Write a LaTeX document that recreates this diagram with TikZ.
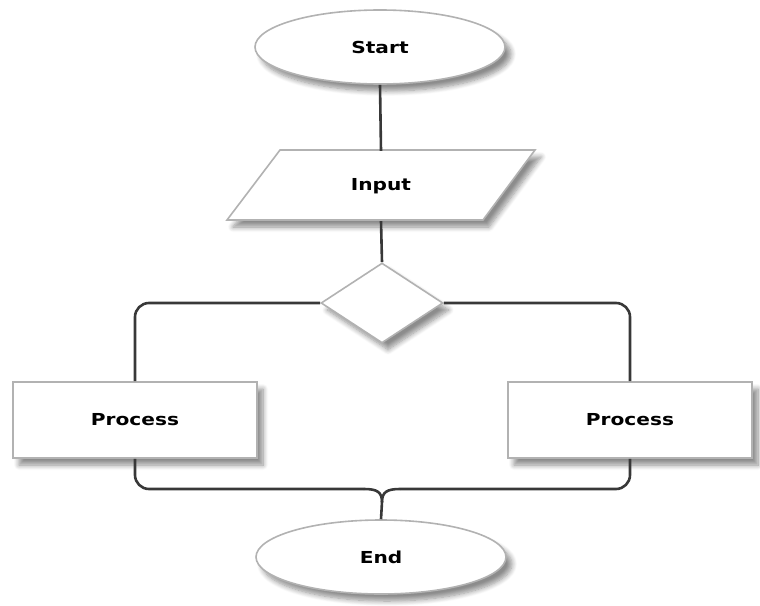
\documentclass[tikz,border=0pt]{standalone}
\usepackage{fontspec}
\setmainfont{DejaVu Sans}
\usetikzlibrary{shapes.geometric,shadows.blur}
\newcommand\lbl[1]{\scalebox{1.22}[1]{\bfseries #1}}
\tikzset{
  shp/.style={draw=black!30, line width=1.6pt, fill=white,
    blur shadow={shadow xshift=6pt, shadow yshift=-7pt, shadow blur steps=8, shadow blur radius=5pt, shadow opacity=45},
    font=\fontsize{16.5}{18}\selectfont, inner sep=0pt},
  term/.style={shp, ellipse, minimum width=250pt, minimum height=74pt},
  procbox/.style={shp, rectangle, minimum width=244pt, minimum height=76pt},
  decbox/.style={shp, diamond, minimum width=122pt, minimum height=80pt},
  conn/.style={draw=black!78, line width=2.6pt, rounded corners=14pt},
  connc/.style={draw=black!78, line width=2.6pt},
}
\begin{document}
\begin{tikzpicture}[x=1pt,y=-1pt]
\useasboundingbox (0,0) rectangle (760,605);
\node[term] (start) at (380,47) {\lbl{Start}};
% parallelogram
\draw[shp] (280,150) -- (535,150) -- (483,220) -- (227,220) -- cycle;
\node[inner sep=0pt, minimum width=200pt, minimum height=70pt, font=\fontsize{16.5}{18}\selectfont] (input) at (381,186) {\lbl{Input}};
\node[decbox] (dec) at (382,303) {};
\node[procbox] (lp) at (135,420) {\lbl{Process}};
\node[procbox] (rp) at (630,420) {\lbl{Process}};
\node[term] (end) at (381,557) {\lbl{End}};
\coordinate (j) at (382,502);
\coordinate (jl) at (364,489);
\coordinate (jr) at (400,489);
\draw[conn] (start.south) -- (input.north);
\draw[conn] (input.south) -- (dec.north);
\draw[conn] (dec.west) -| (lp.north);
\draw[conn] (dec.east) -| (rp.north);
\draw[conn] (lp.south) |- (jl);
\draw[conn] (rp.south) |- (jr);
\draw[connc] (jl) .. controls (377,489) and (382,492) .. (j);
\draw[connc] (jr) .. controls (387,489) and (382,492) .. (j);
\draw[connc] (j) -- (end.north);
\end{tikzpicture}
\end{document}
